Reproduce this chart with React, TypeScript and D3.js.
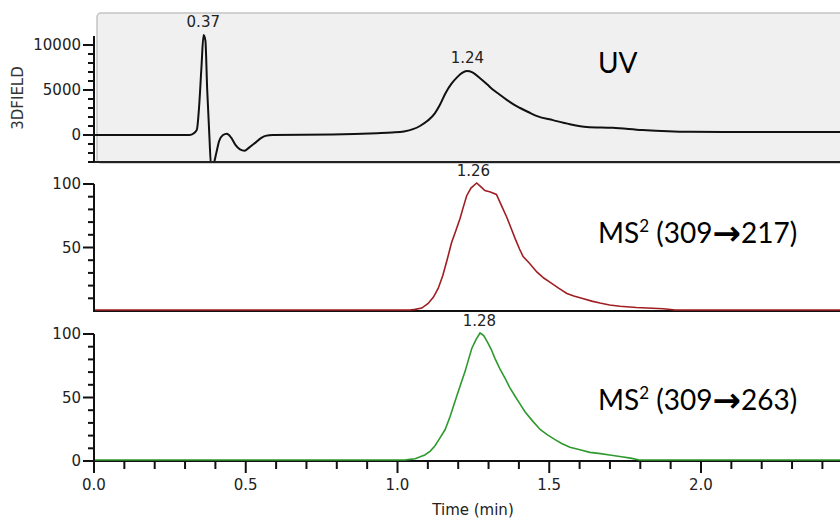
import { useMemo } from "react";
import * as d3 from "d3";

const WIDTH = 840;
const HEIGHT = 522;

// UV trace (3DFIELD), time in min
const uvTime = [
  0, 0.196, 0.314, 0.329, 0.339, 0.346, 0.354, 0.361, 0.367, 0.373, 0.38, 0.386, 0.393, 0.403,
  0.412, 0.425, 0.438, 0.452, 0.466, 0.481, 0.496, 0.511, 0.53, 0.55, 0.565, 0.589, 0.786, 0.933,
  0.982, 1.021, 1.051, 1.074, 1.1, 1.123, 1.139, 1.159, 1.178, 1.196, 1.213, 1.228, 1.247, 1.272,
  1.296, 1.316, 1.336, 1.36, 1.385, 1.404, 1.434, 1.46, 1.512, 1.568, 1.624, 1.709, 1.807, 1.964,
  2.16, 2.5,
];
const uvSignal = [
  0, 0, 0, 200, 600, 3000, 7500, 11100, 10500, 5000, 0, -3500, -3300, -2000,
  -700, 0, 150, -300, -1100, -1600, -1750, -1400, -900, -350, -100, 0, 50, 200,
  280, 400, 650, 1000, 1600, 2400, 3300, 4700, 5700, 6400, 6900, 7100, 6950, 6300,
  5600, 5000, 4500, 3900, 3350, 3000, 2500, 2100, 1650, 1200, 900, 800, 550, 350,
  330, 320,
];

// MS2 309 -> 217 (relative abundance)
const ms217Time = [
  0, 1.041, 1.058, 1.08, 1.1, 1.118, 1.134, 1.149, 1.164, 1.178, 1.193, 1.206, 1.218, 1.228,
  1.242, 1.261, 1.275, 1.288, 1.306, 1.326, 1.343, 1.36, 1.375, 1.388, 1.402, 1.414, 1.434,
  1.459, 1.483, 1.502, 1.532, 1.558, 1.581, 1.61, 1.64, 1.667, 1.699, 1.733, 1.787, 1.876, 1.915,
  2.5,
];
const ms217Signal = [
  0, 0, 0.5, 1.5, 5, 10, 17, 27, 40, 53, 63, 72, 82, 90,
  96, 100, 97, 94, 93, 91, 82, 73, 64, 56, 48, 42, 37,
  30, 25, 22, 17, 13, 11, 9, 7, 5.5, 4, 3, 2, 1, 0,
  0,
];

// MS2 309 -> 263 (relative abundance)
const ms263Time = [
  0, 1.025, 1.041, 1.058, 1.075, 1.09, 1.108, 1.123, 1.139, 1.157, 1.173, 1.188, 1.206, 1.223,
  1.235, 1.245, 1.259, 1.272, 1.284, 1.296, 1.309, 1.321, 1.337, 1.355, 1.37, 1.388, 1.404,
  1.42, 1.444, 1.47, 1.493, 1.519, 1.541, 1.568, 1.601, 1.634, 1.669, 1.699, 1.738, 1.768, 1.797,
  2.5,
];
const ms263Signal = [
  0, 0, 0.5, 1, 2.5, 4, 7, 11, 17, 24, 34, 45, 58, 70,
  80, 88, 95, 100, 98, 93, 87, 80, 72, 64, 57, 50, 44,
  38, 31, 24, 20, 16, 13, 10, 8, 6, 5, 4, 2.5, 1.5, 0,
  0,
];

const uvTickLabels = [0, 5000, 10000];
const msTickLabels = [50, 100];
const ms263TickLabels = [0, 50, 100];
const timeTickLabels = [0, 0.5, 1.0, 1.5, 2.0, 2.5];

const peakLabels = [
  { panel: "uv", time: 0.37, label: "0.37", value: 11100 },
  { panel: "uv", time: 1.24, label: "1.24", value: 7100 },
  { panel: "ms217", time: 1.26, label: "1.26", value: 100 },
  { panel: "ms263", time: 1.28, label: "1.28", value: 100 },
];

const AXIS_X = 94;
const TICK_FONT = "'DejaVu Sans', Verdana, sans-serif";
const BIG_FONT = "Lato, 'Open Sans', sans-serif";
const TEXT_COLOR = "#222";

const YAxis = ({ scale, minor, labels, from, to }) => (
  <g>
    <line x1={AXIS_X} x2={AXIS_X} y1={scale(to)} y2={scale(from)} stroke="#111" strokeWidth={2} />
    {minor.map((v) => {
      const major = labels.includes(v);
      return (
        <line
          key={v}
          x1={AXIS_X - (major ? 11 : 6)}
          x2={AXIS_X}
          y1={scale(v)}
          y2={scale(v)}
          stroke="#111"
          strokeWidth={2}
        />
      );
    })}
    {labels.map((v) => (
      <text
        key={v}
        x={AXIS_X - 13}
        y={scale(v)}
        dy="0.36em"
        textAnchor="end"
        fontFamily={TICK_FONT}
        fontSize={15}
        fill={TEXT_COLOR}
      >
        {v}
      </text>
    ))}
  </g>
);

const MsLabel = ({ x, y, product }) => (
  <text x={x} y={y} fontFamily={BIG_FONT} fontSize={28} fill="#000">
    MS<tspan fontSize={17} dy={-11}>2</tspan>
    <tspan dy={11}> (309</tspan>
    <tspan fontFamily="'DejaVu Sans'" fontWeight="bold" fontSize={34} dy={2}>→</tspan>
    <tspan dy={-2}>{product})</tspan>
  </text>
);

export default function App() {
  // 0 min sits on the y axis, 303.5 px per minute
  const x = useMemo(() => d3.scaleLinear().domain([0, 2.5]).range([AXIS_X, 852.75]), []);
  const yUV = useMemo(() => d3.scaleLinear().domain([-3000, 11000]).range([162, 36]), []);
  const y217 = useMemo(() => d3.scaleLinear().domain([0, 100]).range([311, 184]), []);
  const y263 = useMemo(() => d3.scaleLinear().domain([0, 100]).range([461, 334]), []);
  const scales = { uv: yUV, ms217: y217, ms263: y263 };

  const uvLine = d3
    .line<number>()
    .x((d, i) => x(uvTime[i]))
    .y((d) => yUV(d))
    .curve(d3.curveMonotoneX)(uvSignal);
  const ms217Line = d3
    .line<number>()
    .x((d, i) => x(ms217Time[i]))
    .y((d) => y217(d) - 1)(ms217Signal);
  const ms263Line = d3
    .line<number>()
    .x((d, i) => x(ms263Time[i]))
    .y((d) => y263(d) - 1)(ms263Signal);

  const timeTicks = d3.range(0, 26).map((i) => i / 10);

  return (
    <div style={{ position: "absolute", left: 0, top: 0 }}>
      <svg width={WIDTH} height={HEIGHT} style={{ display: "block", background: "#fff" }}>
        <defs>
          <clipPath id="uvClip">
            <rect x={AXIS_X} y={13} width={WIDTH} height={149} />
          </clipPath>
        </defs>

        {/* UV panel */}
        <rect x={97} y={13} width={WIDTH} height={150} rx={4} fill="#f0f0f0" stroke="#c4c4c4" strokeWidth={1.5} />
        <path d={uvLine} fill="none" stroke="#111" strokeWidth={2} clipPath="url(#uvClip)" />
        <line x1={AXIS_X - 1} x2={WIDTH} y1={162} y2={162} stroke="#222" strokeWidth={2} />
        <YAxis scale={yUV} minor={d3.range(-3000, 10001, 1000)} labels={uvTickLabels} from={-3000} to={11000} />
        <text
          transform="translate(23,98) rotate(-90)"
          textAnchor="middle"
          fontFamily={TICK_FONT}
          fontSize={15}
          fill="#333"
        >
          3DFIELD
        </text>

        {/* MS2 309 -> 217 panel */}
        <line x1={AXIS_X - 1} x2={WIDTH} y1={311} y2={311} stroke="#111" strokeWidth={2} />
        <path d={ms217Line} fill="none" stroke="#a01e23" strokeWidth={1.6} />
        <YAxis scale={y217} minor={d3.range(10, 101, 10)} labels={msTickLabels} from={0} to={100} />

        {/* MS2 309 -> 263 panel */}
        <line x1={AXIS_X - 1} x2={WIDTH} y1={461} y2={461} stroke="#111" strokeWidth={2} />
        <path d={ms263Line} fill="none" stroke="#2e9a2e" strokeWidth={1.6} />
        <YAxis scale={y263} minor={d3.range(0, 101, 10)} labels={ms263TickLabels} from={0} to={100} />

        {/* time axis */}
        {timeTicks.map((t) => {
          const major = timeTickLabels.some((v) => Math.abs(v - t) < 1e-6);
          return (
            <line
              key={t}
              x1={x(t)}
              x2={x(t)}
              y1={461}
              y2={461 + (major ? 12 : 8)}
              stroke="#111"
              strokeWidth={2}
            />
          );
        })}
        {timeTickLabels.map((t) => (
          <text
            key={t}
            x={x(t)}
            y={490}
            textAnchor="middle"
            fontFamily={TICK_FONT}
            fontSize={15}
            fill={TEXT_COLOR}
          >
            {t.toFixed(1)}
          </text>
        ))}
        <text x={473} y={515} textAnchor="middle" fontFamily={TICK_FONT} fontSize={15} fill={TEXT_COLOR}>
          Time (min)
        </text>

        {/* peak labels */}
        {peakLabels.map((p) => (
          <text
            key={p.label + p.panel}
            x={x(p.time) - 3}
            y={scales[p.panel](p.value) - 8}
            textAnchor="middle"
            fontFamily={TICK_FONT}
            fontSize={15}
            fill={TEXT_COLOR}
          >
            {p.label}
          </text>
        ))}

        {/* trace annotations */}
        <text x={598} y={73} fontFamily={BIG_FONT} fontSize={28} fill="#000">
          UV
        </text>
        <MsLabel x={598} y={243} product="217" />
        <MsLabel x={598} y={410} product="263" />
      </svg>
    </div>
  );
}
